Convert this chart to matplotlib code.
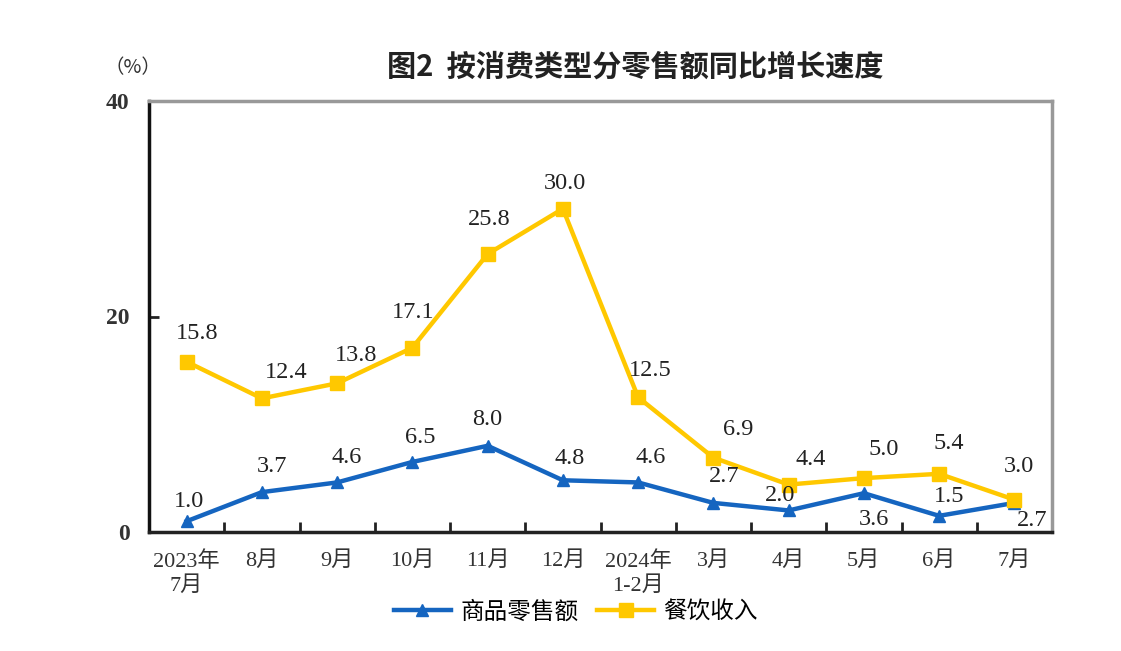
import matplotlib
matplotlib.use('Agg')
from matplotlib import pyplot as plt
import numpy as np

plt.rcParams['font.family'] = ['Liberation Serif', 'Noto Sans CJK SC', 'DejaVu Sans']

months = ['2023年\n7月', '8月', '9月', '10月', '11月', '12月', '2024年\n1-2月',
          '3月', '4月', '5月', '6月', '7月']
goods = [1.0, 3.7, 4.6, 6.5, 8.0, 4.8, 4.6, 2.7, 2.0, 3.6, 1.5, 2.7]
catering = [15.8, 12.4, 13.8, 17.1, 25.8, 30.0, 12.5, 6.9, 4.4, 5.0, 5.4, 3.0]

# label offsets in pixels (dx, dy up)
goods_off = [(2, 20), (10, 26), (10, 25), (8, 24), (0, 26), (7, 22), (13, 25),
             (11, 26), (-9, 15), (10, -26), (10, 19), (18, -18)]
cat_off = [(10, 28), (24, 26), (19, 28), (1, 35), (2, 35), (2, 25), (12, 27),
           (25, 28), (22, 25), (20, 29), (10, 30), (5, 33)]

blue = '#1565c0'
yellow = '#ffc800'

fig = plt.figure(figsize=(11.21, 6.51), dpi=100)
ax = fig.add_axes([149/1121, 1 - 532/651, 903/1121, 431/651])

x = np.arange(len(months))
l1, = ax.plot(x, goods, color=blue, lw=3.2, marker='^', ms=9, label='商品零售额')
l2, = ax.plot(x, catering, color=yellow, lw=3.2, marker='s', ms=10, label='餐饮收入')

px = 0.72
for i in range(len(x)):
    ax.annotate(f'{goods[i]:.1f}', (x[i], goods[i]),
                xytext=(goods_off[i][0]*px, goods_off[i][1]*px), textcoords='offset points',
                ha='center', va='center', fontsize=17.5, color='#222222')
    ax.annotate(f'{catering[i]:.1f}', (x[i], catering[i]),
                xytext=(cat_off[i][0]*px, cat_off[i][1]*px), textcoords='offset points',
                ha='center', va='center', fontsize=17.5, color='#222222')

ax.set_xlim(-0.5, 11.5)
ax.set_ylim(0, 40)
ax.set_yticks([0, 20, 40])
ax.set_xticks(x)
ax.set_xticklabels(months, fontsize=16, color='#333333', linespacing=1.3)
ax.set_xticks(np.arange(0.5, 11.5, 1), minor=True)
ax.tick_params(axis='x', which='major', length=0, pad=14)
ax.tick_params(axis='x', which='minor', direction='in', length=7, width=2, color='#222222')
ax.tick_params(axis='y', direction='in', length=7, width=2, color='#222222',
               labelsize=17, pad=14, labelcolor='#333333')
for lab in ax.get_yticklabels():
    lab.set_fontweight('bold')

ax.spines['left'].set_color('#111111')
ax.spines['bottom'].set_color('#222222')
ax.spines['left'].set_linewidth(2.5)
ax.spines['bottom'].set_linewidth(2.5)
ax.spines['top'].set_color('#999999')
ax.spines['right'].set_color('#999999')
ax.spines['top'].set_linewidth(2.5)
ax.spines['right'].set_linewidth(2.5)

fig.text(635/1121, 1 - 67/651, '图2  按消费类型分零售额同比增长速度', ha='center', va='center',
         fontsize=21, fontweight='bold', family=['Noto Sans CJK SC', 'DejaVu Sans'], color='#222222')
fig.text(133/1121, 1 - 68/651, '（%）', ha='center', va='center', fontsize=14,
         family=['Noto Sans CJK SC', 'DejaVu Sans'], color='#333333')

fig.legend(handles=[l1, l2], loc='center', bbox_to_anchor=(576/1121, 1 - 612/651),
           ncol=2, frameon=False, handlelength=2.4, handletextpad=0.4, columnspacing=0.8,
           prop={'family': ['Noto Sans CJK SC', 'DejaVu Sans'], 'size': 17})

fig.savefig('out.png', dpi=100)
